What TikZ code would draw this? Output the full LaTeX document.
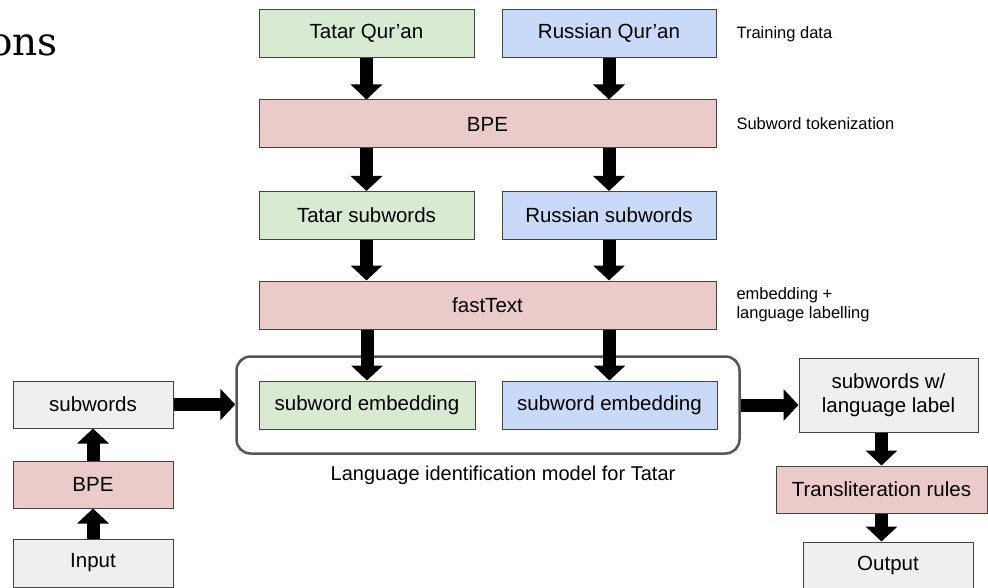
\documentclass[tikz,border=0pt]{standalone}
\usepackage{fontspec}
\setmainfont{Liberation Sans}
\newfontfamily\headfont{DejaVu Serif}
\usetikzlibrary{arrows.meta,fit,positioning}

\definecolor{tatarfill}{HTML}{D9EAD3}
\definecolor{russfill}{HTML}{C9DAF8}
\definecolor{stepfill}{HTML}{EBCBCA}
\definecolor{iofill}{HTML}{EFEFEF}
\definecolor{boxline}{HTML}{434343}
\definecolor{modelline}{HTML}{555555}

\tikzset{
  box/.style={draw=boxline, line width=1pt, minimum height=48pt, inner sep=0pt,
    align=center, font=\fontsize{20.5}{24}\selectfont},
  flow/.style={line width=13pt, -{Triangle[width=31pt,length=15pt]}},
  sidenote/.style={anchor=west, align=left, font=\fontsize{16.5}{19}\selectfont}
}

\begin{document}
\begin{tikzpicture}[x=1pt,y=-1pt]
  \useasboundingbox (0,0) rectangle (988,588);

  % cropped slide title
  \node[anchor=base east, inner sep=0pt, font=\headfont\fontsize{39}{45}\selectfont] (title) at (58,56) {ons};

  % training side
  \node[box, fill=tatarfill, minimum width=215pt] (tq) at (366.5,33.5) {Tatar Qur’an};
  \node[box, fill=russfill, minimum width=214pt] (rq) at (609,33.5) {Russian Qur’an};
  \node[box, fill=stepfill, minimum width=457pt] (bpe) at (487.5,124) {BPE};
  \node[box, fill=tatarfill, minimum width=215pt] (ts) at (366.5,215.5) {Tatar subwords};
  \node[box, fill=russfill, minimum width=214pt] (rs) at (609,215.5) {Russian subwords};
  \node[box, fill=stepfill, minimum width=457pt] (ft) at (487.5,305) {fastText};
  \node[box, fill=tatarfill, minimum width=216pt] (te) at (367,405) {subword embedding};
  \node[box, fill=russfill, minimum width=215pt] (re) at (609.5,405) {subword embedding};
  \node[draw=modelline, line width=2.5pt, rounded corners=14pt, inner xsep=22pt, inner ysep=24pt, fit=(te)(re)] (model) {};
  \node[font=\fontsize{20}{24}\selectfont] (caption) at (503,475) {Language identification model for Tatar};

  \node[sidenote] (note1) at (733,34) {Training data};
  \node[sidenote] (note2) at (733,124) {Subword tokenization};
  \node[sidenote] (note3) at (733,305) {embedding +\\language labelling};

  \draw[flow] (tq.south) -- (tq.south |- bpe.north);
  \draw[flow] (rq.south) -- (rq.south |- bpe.north);
  \draw[flow] (bpe.south -| ts) -- (ts.north);
  \draw[flow] (bpe.south -| rs) -- (rs.north);
  \draw[flow] (ts.south) -- (ts.south |- ft.north);
  \draw[flow] (rs.south) -- (rs.south |- ft.north);
  \draw[flow] (ft.south -| te) -- (te.north);
  \draw[flow] (ft.south -| re) -- (re.north);

  % input side
  \node[box, fill=iofill, minimum width=160pt, minimum height=47pt] (sw) at (93,404.5) {subwords};
  \node[box, fill=stepfill, minimum width=160pt, minimum height=47pt] (lbpe) at (93,484.5) {BPE};
  \node[box, fill=iofill, minimum width=160pt] (inp) at (93,563) {Input};
  \draw[flow] (inp.north) -- (lbpe.south);
  \draw[flow] (lbpe.north) -- (sw.south);
  \draw[flow] (sw.east) -- (sw.east -| model.west);

  % output side
  \node[box, fill=iofill, minimum width=179pt, minimum height=74pt] (sl) at (888.5,395) {subwords w/\\language label};
  \node[box, fill=stepfill, minimum width=211pt, minimum height=47pt] (tr) at (881.5,489.5) {Transliteration rules};
  \node[box, fill=iofill, minimum width=170pt, minimum height=46pt] (out) at (888,565) {Output};
  \draw[flow] (model.east) -- (model.east -| sl.west);
  \draw[flow] (sl.south -| tr) -- (tr.north);
  \draw[flow] (tr.south) -- (tr.south |- out.north);
\end{tikzpicture}
\end{document}
